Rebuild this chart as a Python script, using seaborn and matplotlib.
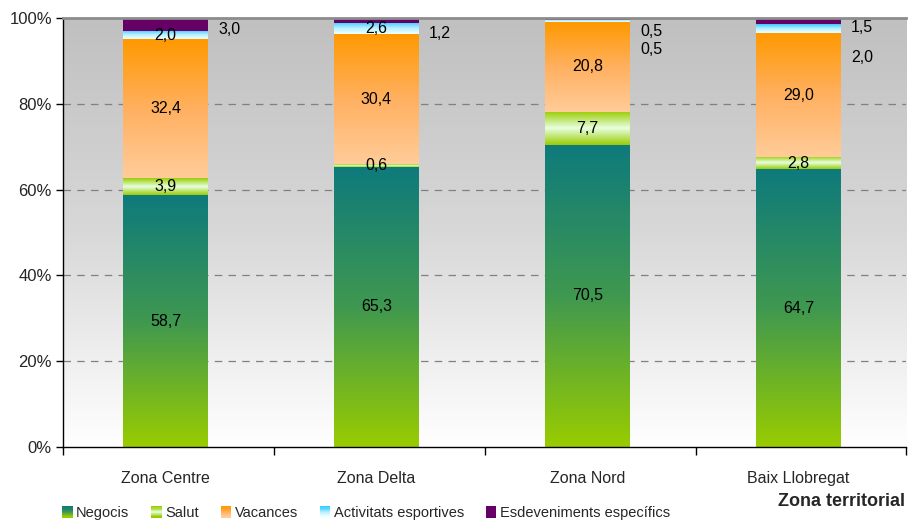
import numpy as np
import pandas as pd
import matplotlib
matplotlib.use("Agg")
import matplotlib.pyplot as plt
import seaborn as sns
from matplotlib.colors import to_rgb
from matplotlib.patches import Rectangle, Patch
from matplotlib.legend_handler import HandlerBase
from matplotlib.ticker import FixedLocator

# ---------------- data ----------------
zones = ["Zona Centre", "Zona Delta", "Zona Nord", "Baix Llobregat"]
series = ["Negocis", "Salut", "Vacances", "Activitats esportives", "Esdeveniments específics"]
negocis = [58.7, 65.3, 70.5, 64.7]
salut = [3.9, 0.6, 7.7, 2.8]
vacances = [32.4, 30.4, 20.8, 29.0]
activitats = [2.0, 2.6, 0.5, 2.0]
esdeveniments = [3.0, 1.2, 0.5, 1.5]
yticks = [0, 20, 40, 60, 80, 100]
ytick_labels = ["0%", "20%", "40%", "60%", "80%", "100%"]
axis_title = "Zona territorial"

values = [negocis, salut, vacances, activitats, esdeveniments]

# ---------------- styles ----------------
gradients = [
    ["#0E7A7C", "#3F9850", "#99CC00"],
    ["#99CC00", "#E8FFE0", "#99CC00"],
    ["#FF9900", "#FFB060", "#FFCC99"],
    ["#33CCFF", "#B8F0FF", "#F0FFFF"],
    ["#660066", "#660066"],
]
outside = {(4, 0): 97.4, (4, 1): 96.3, (4, 2): 96.9, (3, 2): 92.7,
           (4, 3): 97.9, (3, 3): 90.9}

sns.set_style("ticks")
plt.rcParams["font.family"] = ["Liberation Sans", "DejaVu Sans"]

FS = 11.5

def make_grad(stops, n=256):
    cols = np.array([to_rgb(c) for c in stops])
    pos = np.linspace(0, 1, len(stops))
    t = np.linspace(0, 1, n)
    return np.stack([np.interp(t, pos, cols[:, k]) for k in range(3)], axis=1)

fig = plt.figure(figsize=(9.08, 5.25), dpi=100)
ax = fig.add_axes([63 / 908, 1 - 447 / 525, 843 / 908, (447 - 18) / 525])

bg = make_grad(["#C0C0C0", "#D8D8D8", "#FFFFFF"])[:, None, :]
ax.imshow(bg, extent=(0, 1, 0, 1), transform=ax.transAxes, aspect="auto",
          zorder=0, interpolation="bilinear")

bottoms = np.zeros(len(zones))
for si, (name, vals) in enumerate(zip(series, values)):
    df = pd.DataFrame({"zone": zones, "value": vals})
    n_before = len(ax.patches)
    sns.barplot(data=df, x="zone", y="value", order=zones, bottom=bottoms.copy(),
                width=0.4, color=gradients[si][0], errorbar=None, ax=ax,
                linewidth=0, zorder=2)
    new = ax.patches[n_before:]
    grad = make_grad(gradients[si])[:, None, :]
    for zi, p in enumerate(new):
        x0, y0 = p.get_x(), p.get_y()
        w, h = p.get_width(), p.get_height()
        p.set_facecolor("none")
        ax.imshow(grad, extent=(x0, x0 + w, y0, y0 + h), origin="upper",
                  aspect="auto", zorder=2.5, interpolation="bilinear")
        label = f"{vals[zi]:.1f}".replace(".", ",")
        if (si, zi) in outside:
            ax.text(x0 + w + 0.05, outside[(si, zi)], label, ha="left", va="center",
                    fontsize=FS, color="black", zorder=5)
        else:
            ax.text(x0 + w / 2, y0 + h / 2, label, ha="center", va="center",
                    fontsize=FS, color="black", zorder=5)
    bottoms = bottoms + np.array(vals)

ax.set_xlim(-0.486, 3.51)
ax.set_ylim(0, 100)
ax.set_xlabel("")
ax.set_ylabel("")

for yv in yticks[1:-1]:
    ax.axhline(yv, color="#808080", lw=0.9, ls=(0, (6, 5)), zorder=1)

ax.spines["right"].set_visible(False)
ax.spines["top"].set_color("#8C8C8C")
ax.spines["top"].set_linewidth(2)
for s in ("left", "bottom"):
    ax.spines[s].set_color("black")
    ax.spines[s].set_linewidth(1)

ax.set_yticks(yticks)
ax.set_yticklabels(ytick_labels, fontsize=FS + 0.5)
ax.tick_params(axis="y", length=5, width=1, color="black", pad=3)
ax.set_xticks(range(len(zones)))
ax.set_xticklabels(zones, fontsize=FS)
ax.xaxis.set_minor_locator(FixedLocator([-0.486, 0.514, 1.514, 2.514, 3.51]))
ax.tick_params(axis="x", which="major", length=0, pad=17)
ax.tick_params(axis="x", which="minor", length=6, width=1, color="black")

fig.text(905 / 908, 1 - 502 / 525, axis_title, ha="right", va="center",
         fontsize=13, fontweight="bold")

class GradHandler(HandlerBase):
    def __init__(self, stops):
        super().__init__()
        self.stops = stops

    def create_artists(self, legend, orig_handle, xdescent, ydescent, width,
                       height, fontsize, trans):
        cols = make_grad(self.stops, n=10)
        arts = []
        n = len(cols)
        for k, c in enumerate(cols):
            arts.append(Rectangle((-xdescent, -ydescent + height * (n - 1 - k) / n),
                                  width, height / n, facecolor=c, edgecolor="none",
                                  transform=trans))
        return arts

handles = [Patch(label=s) for s in series]
hmap = {h: GradHandler(g) for h, g in zip(handles, gradients)}
fig.legend(handles=handles, labels=series, handler_map=hmap, loc="center",
           bbox_to_anchor=(366 / 908, 1 - 513 / 525), ncol=5, frameon=False,
           fontsize=10.5, handlelength=0.7, handleheight=0.8, handletextpad=0.25,
           columnspacing=1.5)

fig.savefig("out.png", dpi=100)
